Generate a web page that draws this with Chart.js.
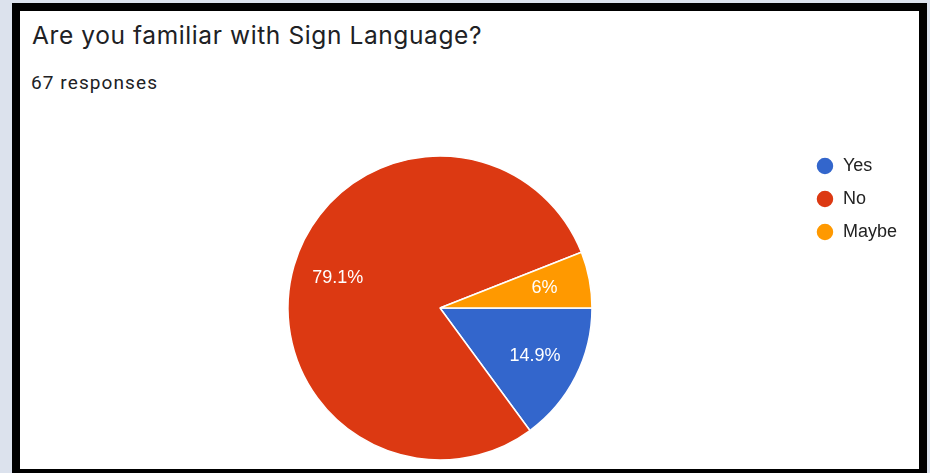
<!DOCTYPE html>
<html>
<head>
<meta charset="utf-8">
<script src="https://cdn.jsdelivr.net/npm/chart.js@4.4.0/dist/chart.umd.min.js"></script>
<style>
  html, body { margin: 0; padding: 0; overflow: hidden; }
  body { width: 930px; height: 473px; background: #dce2ed; position: relative; font-family: Roboto, Arial, sans-serif; }
  #frame { position: absolute; left: 12px; top: 3px; width: 899px; height: 458px; border: 8px solid #000; background: #fff; }
  #title { position: absolute; left: 12px; top: 9px; line-height: 30px; font-family: Inter, Roboto, sans-serif; font-size: 24.5px; letter-spacing: 0.6px; color: #202124; white-space: nowrap; }
  #sub { position: absolute; left: 11px; top: 61px; line-height: 22px; font-size: 19px; letter-spacing: 1.1px; color: #202124; white-space: nowrap; }
  #grafico { position: absolute; left: 0; top: 0; }
</style>
</head>
<body>
<div id="frame">
  <div id="title">Are you familiar with Sign Language?</div>
  <div id="sub">67 responses</div>
</div>
<canvas id="grafico" width="930" height="500"></canvas>
<script>
const labels = ['Yes', 'No', 'Maybe'];
// respuestas (67 en total)
const respuestas = [10, 53, 4];
const colores = ['#3366cc', '#dc3912', '#ff9900'];

// porcentajes dentro de cada porcion
const etiquetasPie = {
  id: 'etiquetasPie',
  afterDatasetsDraw(chart) {
    const ctx = chart.ctx;
    const meta = chart.getDatasetMeta(0);
    const total = respuestas.reduce((a, b) => a + b, 0);
    ctx.save();
    ctx.font = '18px "Liberation Sans", Arial, sans-serif';
    ctx.fillStyle = '#ffffff';
    ctx.textAlign = 'center';
    ctx.textBaseline = 'middle';
    meta.data.forEach((arc, i) => {
      const p = arc.getProps(['x', 'y', 'startAngle', 'endAngle', 'outerRadius'], true);
      const mid = (p.startAngle + p.endAngle) / 2;
      const r = p.outerRadius * 0.7;
      const pct = Math.round(respuestas[i] / total * 1000) / 10;
      ctx.fillText(pct + '%', p.x + Math.cos(mid) * r, p.y + Math.sin(mid) * r);
    });
    ctx.restore();
  }
};

const data = {
  labels: labels,
  datasets: [{
    data: respuestas,
    backgroundColor: colores,
    borderColor: '#ffffff',
    borderWidth: 1.5,
    radius: 152
  }]
};

const config = {
  type: 'pie',
  data: data,
  options: {
    responsive: false,
    animation: false,
    rotation: 90,
    layout: {
      padding: { left: 79, right: 23, top: 142, bottom: 26 }
    },
    plugins: {
      tooltip: { enabled: false },
      legend: {
        position: 'right',
        align: 'start',
        labels: {
          usePointStyle: true,
          pointStyle: 'circle',
          pointStyleWidth: 18,
          boxHeight: 12.73,
          padding: 15,
          color: '#222222',
          font: { family: '"Liberation Sans", Arial, sans-serif', size: 18 }
        }
      }
    }
  },
  plugins: [etiquetasPie]
};

const myChart = new Chart(document.getElementById('grafico'), config);
</script>
</body>
</html>
